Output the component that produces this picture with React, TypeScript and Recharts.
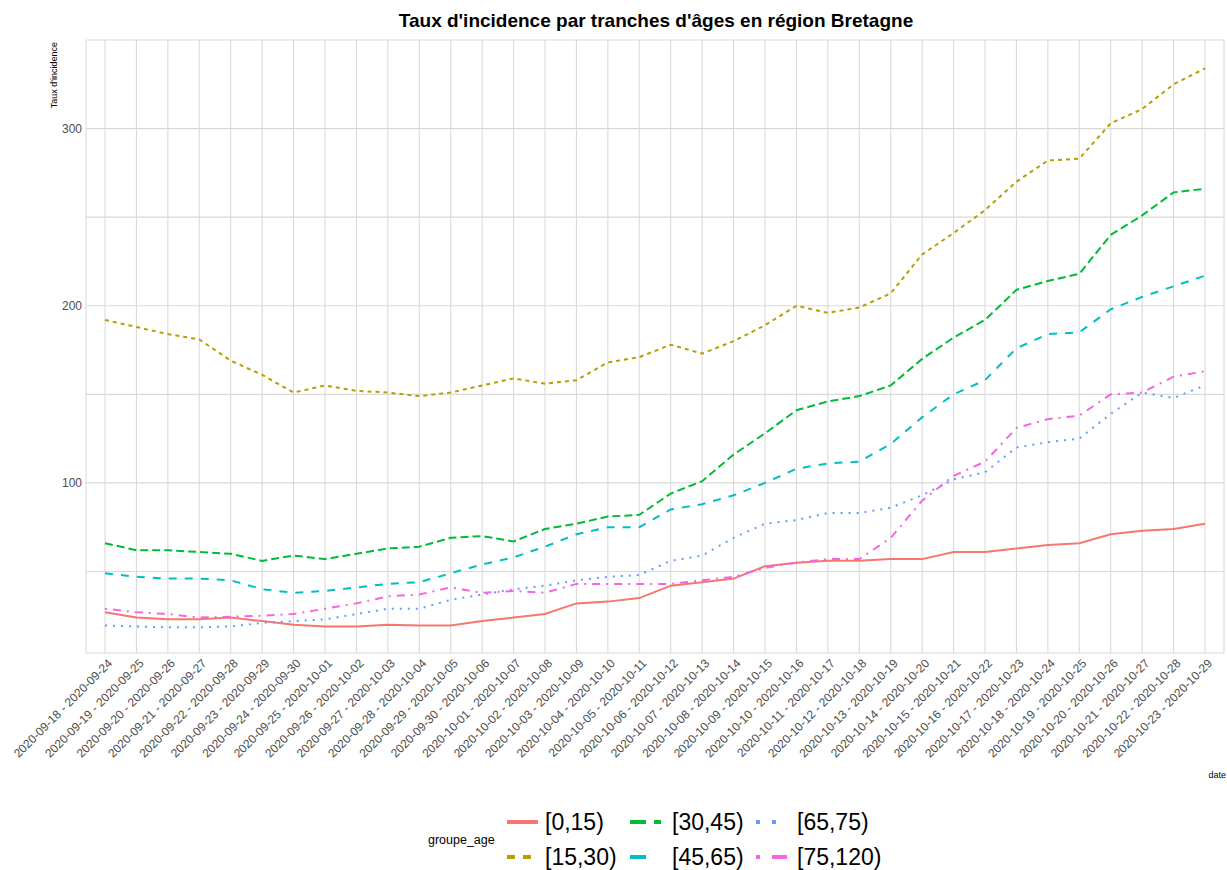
import { LineChart, Line, XAxis, YAxis, CartesianGrid } from 'recharts';

const periods = [
  '2020-09-18 - 2020-09-24', '2020-09-19 - 2020-09-25', '2020-09-20 - 2020-09-26',
  '2020-09-21 - 2020-09-27', '2020-09-22 - 2020-09-28', '2020-09-23 - 2020-09-29',
  '2020-09-24 - 2020-09-30', '2020-09-25 - 2020-10-01', '2020-09-26 - 2020-10-02',
  '2020-09-27 - 2020-10-03', '2020-09-28 - 2020-10-04', '2020-09-29 - 2020-10-05',
  '2020-09-30 - 2020-10-06', '2020-10-01 - 2020-10-07', '2020-10-02 - 2020-10-08',
  '2020-10-03 - 2020-10-09', '2020-10-04 - 2020-10-10', '2020-10-05 - 2020-10-11',
  '2020-10-06 - 2020-10-12', '2020-10-07 - 2020-10-13', '2020-10-08 - 2020-10-14',
  '2020-10-09 - 2020-10-15', '2020-10-10 - 2020-10-16', '2020-10-11 - 2020-10-17',
  '2020-10-12 - 2020-10-18', '2020-10-13 - 2020-10-19', '2020-10-14 - 2020-10-20',
  '2020-10-15 - 2020-10-21', '2020-10-16 - 2020-10-22', '2020-10-17 - 2020-10-23',
  '2020-10-18 - 2020-10-24', '2020-10-19 - 2020-10-25', '2020-10-20 - 2020-10-26',
  '2020-10-21 - 2020-10-27', '2020-10-22 - 2020-10-28', '2020-10-23 - 2020-10-29',
];

const age0to15 = [
  27, 24, 23, 23, 24, 22, 20, 19, 19, 20, 19.5, 19.5, 22, 24, 26, 32, 33, 35,
  42, 44, 46, 53, 55, 56, 56, 57, 57, 61, 61, 63, 65, 66, 71, 73, 74, 77,
];
const age15to30 = [
  192, 188, 184, 181, 169, 161, 151, 155, 152, 151, 149, 151, 155, 159, 156, 158, 168, 171,
  178, 173, 180, 189, 200, 196, 199, 207, 229, 241, 254, 270, 282, 283, 303, 311, 325, 334,
];
const age30to45 = [
  66, 62, 62, 61, 60, 56, 59, 57, 60, 63, 64, 69, 70, 67, 74, 77, 81, 82,
  94, 101, 116, 128, 141, 146, 149, 155, 170, 182, 192, 209, 214, 218, 240, 251, 264, 266,
];
const age45to65 = [
  49, 47, 46, 46, 45, 40, 38, 39, 41, 43, 44, 49, 54, 58, 64, 71, 75, 75,
  85, 88, 93, 100, 108, 111, 112, 122, 137, 150, 158, 176, 184, 185, 198, 205, 211, 217,
];
const age65to75 = [
  19.5, 19, 18.5, 18.5, 19, 21, 22, 23, 26, 29, 29, 34, 37, 40, 42, 45, 47, 48,
  56, 59, 69, 77, 79, 83, 83, 86, 93, 102, 106, 120, 123, 125, 139, 151, 148, 155,
];
const age75to120 = [
  29, 27, 26, 24, 24.5, 25, 26, 29, 32, 36, 37, 41, 38, 39, 38, 43, 43, 43,
  43, 45, 47, 52, 55, 57, 57, 69, 90, 104, 112, 131, 136, 138, 150, 151, 160, 163,
];

const yTicks = [50, 100, 150, 200, 250, 300];
const yLabelled = [100, 200, 300];

const series = [
  { key: 'a0', label: '[0,15)', values: age0to15, color: '#F8766D', dash: undefined, keyDash: undefined },
  { key: 'a15', label: '[15,30)', values: age15to30, color: '#B79F00', dash: '4 4', keyDash: '8 8' },
  { key: 'a30', label: '[30,45)', values: age30to45, color: '#00BA38', dash: '8 4', keyDash: '16 8' },
  { key: 'a45', label: '[45,65)', values: age45to65, color: '#00BFC4', dash: '8 8', keyDash: '16 16' },
  { key: 'a65', label: '[65,75)', values: age65to75, color: '#619CFF', dash: '2 6', keyDash: '4 12' },
  { key: 'a75', label: '[75,120)', values: age75to120, color: '#F564E3', dash: '2 6 8 6', keyDash: '4 12 16 12' },
];

// legend columns (key start, label start)
const legendKeyX = [507, 630, 756];
const legendLabelX = [545, 672, 797];

const data = periods.map((p, i) => {
  const row: Record<string, string | number> = { date: p };
  series.forEach((s) => {
    row[s.key] = s.values[i];
  });
  return row;
});

const FONT = '"Liberation Sans", Arial, sans-serif';

const DateTick = (props: any) => {
  const { x, y, payload } = props;
  const tx = x + 8;
  const ty = y;
  return (
    <text
      x={tx}
      y={ty}
      transform={`rotate(-45, ${tx}, ${ty})`}
      textAnchor="end"
      fontSize={12}
      fontFamily={FONT}
      fill="#4d4d4d"
    >
      {payload.value}
    </text>
  );
};

export default function App() {
  return (
    <div style={{ position: 'absolute', left: 0, top: 0, width: 1227, height: 870, background: '#fff' }}>
      <LineChart
        width={1227}
        height={870}
        data={data}
        margin={{ top: 40, right: 3, left: 0, bottom: 97 }}
        style={{ position: 'absolute', left: 0, top: 0 }}
      >
        <CartesianGrid stroke="#dadada" strokeWidth={1.1} />
        <XAxis
          dataKey="date"
          type="category"
          interval={0}
          height={120}
          padding={{ left: 19, right: 19 }}
          axisLine={false}
          tickLine={false}
          tickSize={0}
          tickMargin={11}
          tick={<DateTick />}
        />
        <YAxis
          type="number"
          domain={[4, 350]}
          ticks={yTicks}
          width={86}
          axisLine={false}
          tickLine={false}
          tickSize={0}
          tickMargin={4}
          tick={{ fontSize: 12, fill: '#4d4d4d', fontFamily: FONT }}
          tickFormatter={(v: number) => (yLabelled.includes(v) ? String(v) : '')}
        />
        {series.map((s) => (
          <Line
            key={s.key}
            type="linear"
            dataKey={s.key}
            name={s.label}
            stroke={s.color}
            strokeWidth={2}
            strokeDasharray={s.dash}
            dot={false}
            activeDot={false}
            isAnimationActive={false}
          />
        ))}
      </LineChart>
      <svg
        width={1227}
        height={870}
        style={{ position: 'absolute', left: 0, top: 0, pointerEvents: 'none', fontFamily: FONT }}
      >
        <text x={656} y={27} textAnchor="middle" fontSize={19} fontWeight="bold" fill="#000">
          Taux d'incidence par tranches d'âges en région Bretagne
        </text>
        <text
          x={57}
          y={42}
          transform="rotate(-90, 57, 42)"
          textAnchor="end"
          fontSize={9}
          fill="#000"
        >
          Taux d'incidence
        </text>
        <text x={1226} y={778} textAnchor="end" fontSize={9} fill="#000">
          date
        </text>
        <text x={428} y={844} fontSize={12.5} fill="#000">
          groupe_age
        </text>
        {series.map((s, i) => {
          const col = Math.floor(i / 2);
          const row = i % 2;
          const kx = legendKeyX[col];
          const ky = 822 + row * 35;
          return (
            <g key={s.key}>
              <line
                x1={kx}
                x2={kx + 31}
                y1={ky}
                y2={ky}
                stroke={s.color}
                strokeWidth={4}
                strokeDasharray={s.keyDash}
              />
              <text x={legendLabelX[col]} y={ky + 8} fontSize={23} fill="#000">
                {s.label}
              </text>
            </g>
          );
        })}
      </svg>
    </div>
  );
}
